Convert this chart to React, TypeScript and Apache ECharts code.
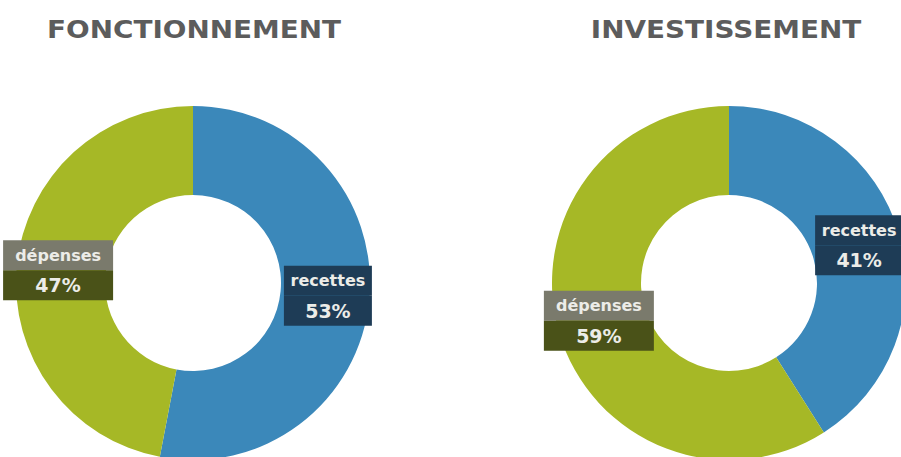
import React, { useEffect, useRef } from "react";
import * as echarts from "echarts";

const categories = ["recettes", "dépenses"];
const fonctionnementValues = [53, 47];
const investissementValues = [41, 59];
const titles = ["FONCTIONNEMENT", "INVESTISSEMENT"];

const BLUE = "#3b88ba";
const GREEN = "#a6b826";
const FONT = "DejaVu Sans";

function buildData(values: number[]) {
  return categories.map((name, i) => ({ name, value: values[i] }));
}

function labelFor() {
  const common = {
    height: 30, lineHeight: 30, align: "center", color: "#ecece8",
    fontFamily: FONT, fontWeight: "bold",
  };
  return {
    show: true,
    position: "inside",
    formatter: (p: any) =>
      p.name === "recettes"
        ? `{rt|${p.name}}\n{rv|${p.value}%}`
        : `{dt|${p.name}}\n{dv|${p.value}%}`,
    rich: {
      rt: { ...common, width: 88, backgroundColor: "#1e3c56", fontSize: 16 },
      rv: { ...common, width: 88, backgroundColor: "#1e3c56", fontSize: 19 },
      dt: { ...common, width: 110, backgroundColor: "#7a7a6c", fontSize: 16 },
      dv: { ...common, width: 110, backgroundColor: "#4a5218", fontSize: 19 },
    },
  };
}

export default function App() {
  const ref = useRef<HTMLDivElement>(null);
  useEffect(() => {
    if (!ref.current) return;
    const chart = echarts.init(ref.current, undefined, { renderer: "svg" });
    const seriesBase = {
      type: "pie",
      radius: [88, 177],
      startAngle: 90,
      clockwise: true,
      avoidLabelOverlap: false,
      labelLine: { show: false },
      emphasis: { disabled: true },
      itemStyle: { borderWidth: 0 },
      color: [BLUE, GREEN],
    };
    chart.setOption({
      animation: false,
      backgroundColor: "#ffffff",
      graphic: [
        {
          type: "text",
          x: 194, y: 30, scaleX: 1.16,
          style: {
            text: titles[0], fill: "#5c5c5c", font: `bold 24px '${FONT}'`,
            align: "center", verticalAlign: "middle",
          },
        },
        {
          type: "text",
          x: 726, y: 30, scaleX: 1.16,
          style: {
            text: titles[1], fill: "#5c5c5c", font: `bold 24px '${FONT}'`,
            align: "center", verticalAlign: "middle",
          },
        },
      ],
      series: [
        {
          ...seriesBase,
          name: titles[0],
          center: [193, 283],
          data: buildData(fonctionnementValues),
          label: labelFor(),
        },
        {
          ...seriesBase,
          name: titles[1],
          center: [729, 283],
          data: buildData(investissementValues),
          label: labelFor(),
        },
      ],
    });
    return () => chart.dispose();
  }, []);
  return (
    <div
      ref={ref}
      style={{ position: "absolute", left: 0, top: 0, width: 901, height: 457 }}
    />
  );
}
